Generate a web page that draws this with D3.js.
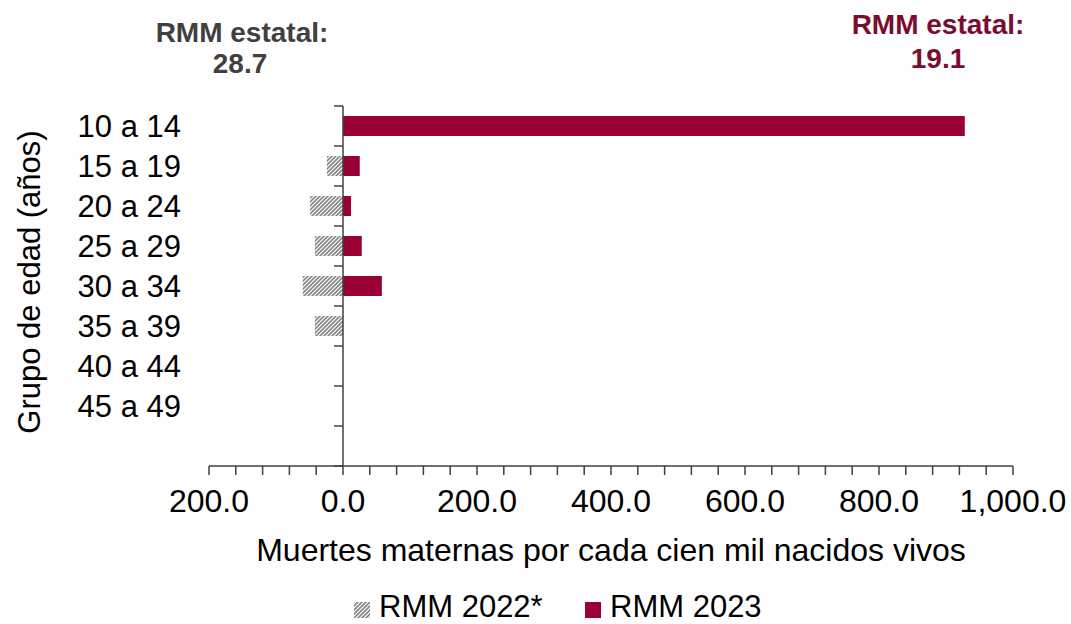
<!DOCTYPE html>
<html>
<head>
<meta charset="utf-8">
<script src="https://cdn.jsdelivr.net/npm/d3@7"></script>
<style>
  html, body { margin: 0; padding: 0; background: #fff; }
  svg { display: block; font-family: "Liberation Sans", Arial, sans-serif; }
</style>
</head>
<body>
<svg id="chart" width="1071" height="624"></svg>
<script>
const categories = ["10 a 14", "15 a 19", "20 a 24", "25 a 29", "30 a 34", "35 a 39", "40 a 44", "45 a 49", ""];
const rmm2022 = [0, -24, -49, -42, -60, -42, 0, 0, 0];
const rmm2023 = [928, 25, 12, 28, 58, 0, 0, 0, 0];
const xTicks = [-200, 0, 200, 400, 600, 800, 1000];
const seriesNames = ["RMM 2022*", "RMM 2023"];
const estatal2022 = 28.7;
const estatal2023 = 19.1;

const svg = d3.select("#chart");
const barColor = "#990033";
const axisColor = "#404040";

const defs = svg.append("defs");
const pat = defs.append("pattern")
  .attr("id", "hatch").attr("patternUnits", "userSpaceOnUse")
  .attr("width", 4).attr("height", 4);
pat.append("rect").attr("width", 4).attr("height", 4).attr("fill", "#fff");
pat.append("path")
  .attr("d", "M-1,1 L1,-1 M0,4 L4,0 M3,5 L5,3")
  .attr("stroke", "#858585").attr("stroke-width", 1.6);

const x = d3.scaleLinear().domain([-200, 1000]).range([209, 1013]);
const y = d3.scaleBand().domain(categories).range([106, 466]).paddingInner(0.5).paddingOuter(0.25);
const yb = d3.scaleBand().domain(categories).range([106, 466]);

const fmt = d3.format(",.1f");

// bars 2022 (hatched)
svg.append("g").selectAll("rect")
  .data(categories.map((c, i) => ({c, v: rmm2022[i]})).filter(d => d.v !== 0))
  .join("rect")
  .attr("x", d => x(Math.min(0, d.v)))
  .attr("width", d => Math.abs(x(d.v) - x(0)))
  .attr("y", d => y(d.c))
  .attr("height", y.bandwidth())
  .attr("fill", "url(#hatch)");

// bars 2023
svg.append("g").selectAll("rect")
  .data(categories.map((c, i) => ({c, v: rmm2023[i]})).filter(d => d.v !== 0))
  .join("rect")
  .attr("x", d => x(Math.min(0, d.v)))
  .attr("width", d => Math.abs(x(d.v) - x(0)))
  .attr("y", d => y(d.c))
  .attr("height", y.bandwidth())
  .attr("fill", barColor);

// x axis with minor ticks
const xMinor = d3.range(-200, 1001, 40);
const xAxisG = svg.append("g").attr("transform", `translate(0,${466})`);
xAxisG.append("line").attr("x1", x(-200)).attr("x2", x(1000)).attr("y1", 0).attr("y2", 0)
  .attr("stroke", axisColor).attr("stroke-width", 1.5);
xAxisG.selectAll("line.tk").data(xMinor).join("line").attr("class", "tk")
  .attr("x1", d => x(d)).attr("x2", d => x(d)).attr("y1", 0).attr("y2", 9)
  .attr("stroke", axisColor).attr("stroke-width", 1.5);
xAxisG.selectAll("text").data(xTicks).join("text")
  .attr("x", d => x(d)).attr("y", 46)
  .attr("text-anchor", "middle").attr("font-size", 32).attr("fill", "#000")
  .text(d => fmt(Math.abs(d)));

// y axis
const yAxisG = svg.append("g");
yAxisG.append("line").attr("x1", x(0)).attr("x2", x(0)).attr("y1", 106).attr("y2", 466)
  .attr("stroke", axisColor).attr("stroke-width", 1.5);
const yTickPos = categories.map(c => yb(c)).concat([466]);
yAxisG.selectAll("line.tk").data(yTickPos).join("line").attr("class", "tk")
  .attr("x1", x(0) - 9).attr("x2", x(0)).attr("y1", d => d).attr("y2", d => d)
  .attr("stroke", axisColor).attr("stroke-width", 1.5);
yAxisG.selectAll("text").data(categories).join("text")
  .attr("x", 181).attr("y", d => yb(d) + yb.bandwidth() / 2 + 11)
  .attr("text-anchor", "end").attr("font-size", 31).attr("fill", "#000")
  .text(d => d);

// axis titles
svg.append("text").attr("x", 611).attr("y", 561).attr("text-anchor", "middle")
  .attr("font-size", 32).attr("fill", "#000")
  .text("Muertes maternas por cada cien mil nacidos vivos");
svg.append("text").attr("transform", "translate(40,282) rotate(-90)")
  .attr("text-anchor", "middle").attr("font-size", 31).attr("fill", "#000")
  .text("Grupo de edad (años)");

// annotations
const ann1 = svg.append("text").attr("text-anchor", "middle").attr("font-size", 28)
  .attr("font-weight", "bold").attr("fill", "#404040");
ann1.append("tspan").attr("x", 242).attr("y", 42).text("RMM estatal:");
ann1.append("tspan").attr("x", 240).attr("y", 73).text(estatal2022.toFixed(1));
const ann2 = svg.append("text").attr("text-anchor", "middle").attr("font-size", 28)
  .attr("font-weight", "bold").attr("fill", "#7b0c2f");
ann2.append("tspan").attr("x", 938).attr("y", 34).text("RMM estatal:");
ann2.append("tspan").attr("x", 938).attr("y", 68).text(estatal2023.toFixed(1));

// legend
const leg = svg.append("g");
leg.append("rect").attr("x", 354).attr("y", 602).attr("width", 16).attr("height", 16).attr("fill", "url(#hatch)");
leg.append("text").attr("x", 379).attr("y", 617).attr("font-size", 31).attr("fill", "#000").text(seriesNames[0]);
leg.append("rect").attr("x", 585).attr("y", 602).attr("width", 16).attr("height", 16).attr("fill", barColor);
leg.append("text").attr("x", 610).attr("y", 617).attr("font-size", 31).attr("fill", "#000").text(seriesNames[1]);
</script>
</body>
</html>
